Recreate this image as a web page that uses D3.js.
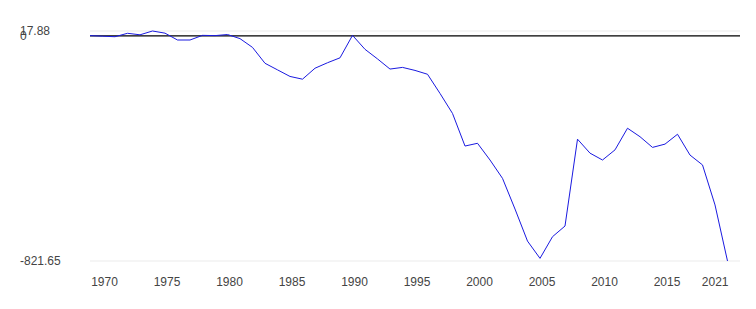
<!DOCTYPE html>
<html>
<head>
<meta charset="utf-8">
<script src="https://cdn.jsdelivr.net/npm/d3@7"></script>
<style>
  body { margin: 0; background: #fff; }
  text { font-family: Arial, "Liberation Sans", sans-serif; font-size: 12px; fill: #444; }
</style>
</head>
<body>
<div id="viz"></div>
<script>
"use strict";

var w = 756;
var h = 309;

// values, 1969-2020
var years = [1969, 1970, 1971, 1972, 1973, 1974, 1975, 1976, 1977, 1978, 1979,
  1980, 1981, 1982, 1983, 1984, 1985, 1986, 1987, 1988, 1989,
  1990, 1991, 1992, 1993, 1994, 1995, 1996, 1997, 1998, 1999,
  2000, 2001, 2002, 2003, 2004, 2005, 2006, 2007, 2008, 2009,
  2010, 2011, 2012, 2013, 2014, 2015, 2016, 2017, 2018, 2019, 2020];
var values = [1, -1, -3, 9.5, 4, 17.88, 10, -15, -15, 2, 1,
  5, -10, -42, -100, -124, -148, -158, -118, -98, -80,
  2, -49, -84, -121, -115, -126, -140, -210, -283, -402,
  -392, -453, -520, -632, -749, -812, -733, -694, -377, -428,
  -453, -416, -337, -368, -407, -395, -359, -435, -471, -617, -821.65];

var yTicks = [17.88, 0, -821.65];
var xTicks = [1970, 1975, 1980, 1985, 1990, 1995, 2000, 2005, 2010, 2015, 2021];

var svg = d3.select("#viz")
  .append("svg")
  .attr("width", w)
  .attr("height", h);

var x = d3.scaleLinear()
  .domain([1969, 2021])
  .range([90, 740]);

var y = d3.scaleLinear()
  .domain([-821.65, 17.88])
  .range([261, 31]);

// grid lines at the top and bottom values
svg.append("g")
  .selectAll("line.grid")
  .data([yTicks[0], yTicks[2]]).enter()
  .append("line")
  .attr("x1", x(1969))
  .attr("x2", x(2021))
  .attr("y1", function(d) { return y(d); })
  .attr("y2", function(d) { return y(d); })
  .attr("stroke", "#ebebeb")
  .attr("stroke-width", 1);

// y labels, left aligned
svg.append("g")
  .selectAll("text.ylab")
  .data(yTicks).enter()
  .append("text")
  .attr("x", 20)
  .attr("y", function(d) { return y(d); })
  .attr("dy", "0.35em")
  .text(function(d) { return d; });

// x labels
svg.append("g")
  .selectAll("text.xlab")
  .data(xTicks).enter()
  .append("text")
  .attr("x", function(d, i) {
    return i === xTicks.length - 1 ? x(2020) + 1 : x(d) + 2;
  })
  .attr("y", 286)
  .attr("text-anchor", function(d, i) {
    return i === xTicks.length - 1 ? "end" : "middle";
  })
  .text(function(d) { return d; });

// zero line
svg.append("line")
  .attr("x1", x(1969))
  .attr("x2", x(2021))
  .attr("y1", y(0))
  .attr("y2", y(0))
  .attr("stroke", "#000")
  .attr("stroke-width", 1.2);

var line = d3.line()
  .x(function(d, i) { return x(years[i]); })
  .y(function(d) { return y(d); });

svg.append("path")
  .datum(values)
  .attr("fill", "none")
  .attr("stroke", "#1a1ae0")
  .attr("stroke-width", 1)
  .attr("d", line);
</script>
</body>
</html>
